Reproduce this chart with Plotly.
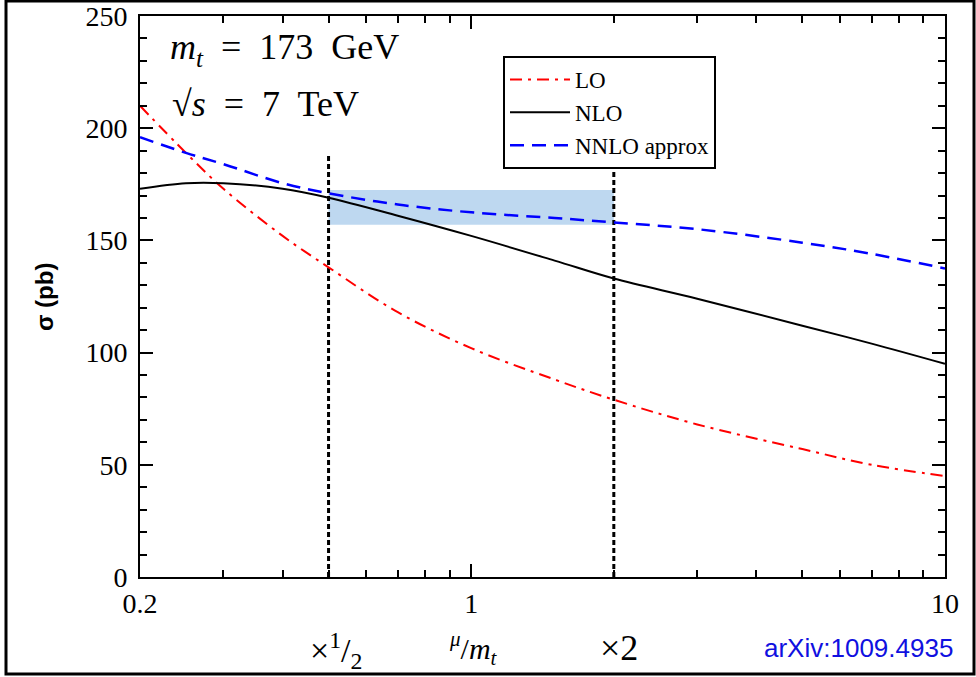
import math
import plotly.graph_objects as go

# ---- data ----
mu = [0.2, 0.25, 0.3, 0.4, 0.5, 0.7, 1.0, 1.5, 2.0, 3.0, 5.0, 7.0, 10.0]
sigma_LO = [210, 189, 173, 152, 138, 118, 102, 88, 79, 68, 57, 50, 45]
sigma_NLO = [173, 175.5, 175.5, 173, 169, 161, 152, 141, 133, 124, 112, 104, 95]
sigma_NNLO = [196, 189, 184, 175.5, 171, 166, 162.5, 160, 158, 155, 149, 144, 137.5]

scale_lines_x = [0.5, 2.0]
scale_line_top = 189
band_x = [0.5, 2.0]
band_y = [157, 172.5]

x_major = [0.2, 1, 10]
x_major_text = ["0.2", "1", "10"]
x_minor = [0.3, 0.4, 0.5, 0.6, 0.7, 0.8, 0.9, 2, 3, 4, 5, 6, 7, 8, 9]
y_major = [0, 50, 100, 150, 200, 250]

SERIF = "Liberation Serif, Times New Roman, serif"
SANS = "Liberation Sans, Arial, sans-serif"

W, H = 976, 677
L, R, T, B = 140, 945, 16, 577


def px(x):
    return (x - L) / (R - L)


def py(y):
    return (B - y) / (B - T)


fig = go.Figure()

# uncertainty band
fig.add_trace(go.Scatter(
    x=[band_x[0], band_x[1], band_x[1], band_x[0], band_x[0]],
    y=[band_y[0], band_y[0], band_y[1], band_y[1], band_y[0]],
    fill="toself", fillcolor="rgb(190,216,240)", line=dict(width=0),
    mode="lines", showlegend=False, hoverinfo="skip"))

# vertical dotted scale lines
for xv in scale_lines_x:
    fig.add_trace(go.Scatter(
        x=[xv, xv], y=[0, scale_line_top], mode="lines",
        line=dict(color="black", width=3, dash="5px,3px"),
        showlegend=False, hoverinfo="skip"))

fig.add_trace(go.Scatter(x=mu, y=sigma_LO, mode="lines", name="LO",
                         line=dict(color="#ff0000", width=2, dash="12px,6px,3px,6px", shape="spline")))
fig.add_trace(go.Scatter(x=mu, y=sigma_NLO, mode="lines", name="NLO",
                         line=dict(color="black", width=2, shape="spline")))
fig.add_trace(go.Scatter(x=mu, y=sigma_NNLO, mode="lines", name="NNLO approx",
                         line=dict(color="#0000ff", width=2.5, dash="14px,8px", shape="spline")))

fig.update_layout(
    width=W, height=H,
    margin=dict(l=L, r=W - R, t=T, b=H - B, autoexpand=False),
    paper_bgcolor="white", plot_bgcolor="white",
    showlegend=True,
    legend=dict(x=px(503), y=py(56), xanchor="left", yanchor="top",
                bordercolor="black", borderwidth=2, bgcolor="white",
                font=dict(family=SERIF, size=23, color="black"),
                tracegroupgap=0, itemwidth=60),
    xaxis=dict(type="log", range=[math.log10(0.2), math.log10(10)], automargin=False,
               tickvals=x_major, ticktext=x_major_text, ticks="inside", ticklen=13,
               tickwidth=2, tickcolor="black", showline=True, linecolor="black", linewidth=2,
               mirror="ticks", showgrid=False, zeroline=False,
               tickfont=dict(family=SERIF, size=28, color="black"),
               minor=dict(tickvals=x_minor, ticks="inside", ticklen=7, tickwidth=2,
                          tickcolor="black", showgrid=False)),
    yaxis=dict(range=[0, 250], tickvals=y_major, ticks="inside", ticklen=13, automargin=False,
               tickwidth=2, tickcolor="black", showline=True, linecolor="black", linewidth=2,
               mirror="ticks", showgrid=False, zeroline=False, ticklabelstandoff=5,
               tickfont=dict(family=SERIF, size=28, color="black"),
               minor=dict(dtick=10, ticks="inside", ticklen=7, tickwidth=2,
                          tickcolor="black", showgrid=False)),
)

annos = [
    dict(text="<b>σ (pb)</b>", x=px(44), y=py(297), xanchor="center", yanchor="middle", textangle=-90,
         font=dict(family=SANS, size=24, color="black")),
    dict(text="<i>m<sub>t</sub></i>  =  173  GeV", x=px(168), y=py(50), xanchor="left", yanchor="middle",
         font=dict(family=SERIF, size=36, color="black")),
    dict(text="√<i>s</i>  =  7  TeV", x=px(170), y=py(104), xanchor="left", yanchor="middle",
         font=dict(family=SERIF, size=36, color="black")),
    dict(text="×<sup>1</sup>/<sub>2</sub>", x=px(336), y=py(650), xanchor="center", yanchor="middle",
         font=dict(family=SERIF, size=34, color="black")),
    dict(text="<sup><i>μ</i></sup>/<i>m<sub>t</sub></i>", x=px(473), y=py(648), xanchor="center",
         yanchor="middle", font=dict(family=SERIF, size=30, color="black")),
    dict(text="×2", x=px(619), y=py(648), xanchor="center", yanchor="middle",
         font=dict(family=SERIF, size=36, color="black")),
    dict(text="arXiv:1009.4935", x=px(955), y=py(648), xanchor="right", yanchor="middle",
         font=dict(family=SANS, size=26, color="#1010e0")),
]
for a in annos:
    a.update(xref="paper", yref="paper", showarrow=False)
    fig.add_annotation(**a)

# outer frame
fig.add_shape(type="rect", xref="paper", yref="paper",
              x0=px(6), x1=px(974), y0=py(674), y1=py(1),
              line=dict(color="black", width=3), fillcolor="rgba(0,0,0,0)")

fig.write_html("out.html", config={"displayModeBar": False},
               post_script="document.body.style.margin='0';document.body.style.overflow='hidden';")
